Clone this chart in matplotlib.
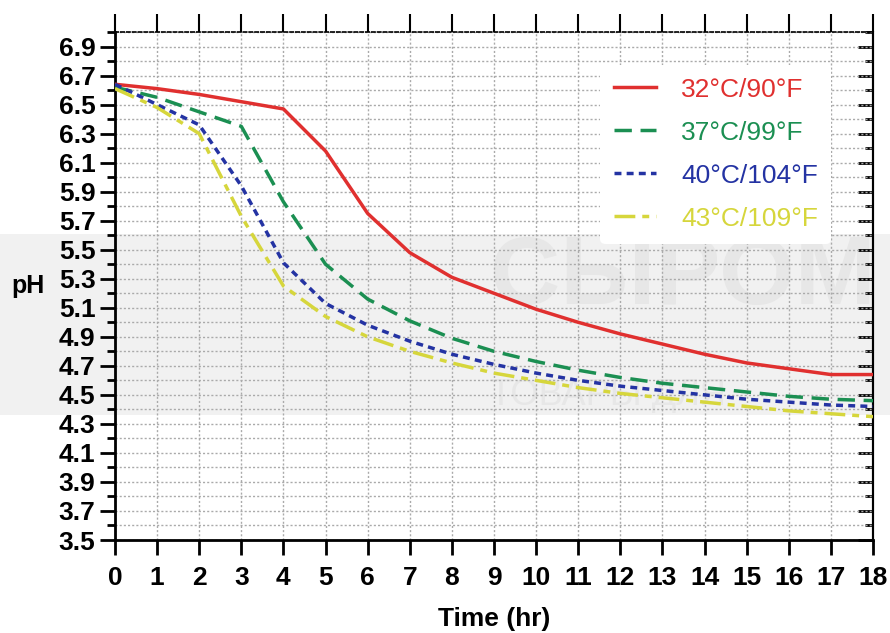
import numpy as np
import matplotlib.pyplot as plt
from matplotlib.patches import Rectangle
from matplotlib.ticker import MultipleLocator

plt.rcParams['font.family'] = ['Liberation Sans', 'DejaVu Sans']

hours = list(range(0, 19))
ph_32 = [6.64, 6.61, 6.57, 6.52, 6.47, 6.18, 5.75, 5.48, 5.31, 5.20, 5.09, 5.00,
         4.92, 4.85, 4.78, 4.72, 4.68, 4.64, 4.64]
ph_37 = [6.62, 6.55, 6.45, 6.35, 5.83, 5.40, 5.16, 5.01, 4.89, 4.80, 4.73, 4.67,
         4.62, 4.58, 4.55, 4.52, 4.49, 4.47, 4.46]
ph_40 = [6.64, 6.50, 6.36, 5.94, 5.41, 5.13, 4.98, 4.87, 4.78, 4.71, 4.65, 4.60,
         4.56, 4.53, 4.50, 4.47, 4.45, 4.43, 4.42]
ph_43 = [6.61, 6.48, 6.30, 5.73, 5.25, 5.04, 4.90, 4.80, 4.72, 4.65, 4.60, 4.55,
         4.51, 4.48, 4.45, 4.42, 4.39, 4.37, 4.35]
labels = ['32°C/90°F', '37°C/99°F', '40°C/104°F', '43°C/109°F']
colors = ['#e0302f', '#1b8f52', '#2433a3', '#d6d63c']

fig = plt.figure(figsize=(8.9, 6.33), dpi=100)
fig.patch.set_facecolor('white')

# faint watermark in the background
fig.patches.append(Rectangle((0, 0.345), 1, 0.285, transform=fig.transFigure,
                             facecolor='#f1f1f1', edgecolor='none', zorder=0))
fig.text(0.55, 0.56, 'СЫРОМ', fontsize=70, fontweight='bold', color='#e7e7e7',
         ha='left', va='center', zorder=0.5)
fig.text(0.55, 0.375, 'ТОВАРЫ ДЛЯ', fontsize=26, color='#e7e7e7',
         ha='left', va='center', zorder=0.5)

ax = fig.add_axes([0.1292, 0.1469, 0.8517, 0.8025])
ax.set_zorder(2)
ax.patch.set_alpha(0)

styles = ['-', (0, (5, 2.5)), (0, (2, 1.5)), (0, (6, 2, 2, 2))]
for ys, lab, c, ls in zip([ph_32, ph_37, ph_40, ph_43], labels, colors, styles):
    ax.plot(hours, ys, color=c, lw=2.5, linestyle=ls, label=lab, zorder=3)

ax.set_xlim(0, 18)
ax.set_ylim(3.5, 7.0)
ax.set_xticks(hours)
ax.set_yticks(np.round(np.arange(3.5, 7.0, 0.2), 1))
ax.yaxis.set_minor_locator(MultipleLocator(0.1))
ax.set_yticklabels(['%.1f' % v for v in np.arange(3.5, 7.0, 0.2)])

ax.grid(True, which='major', axis='x', color='#aaaaaa', linestyle=(0, (1.5, 1.5)), lw=1)
ax.grid(True, which='both', axis='y', color='#aaaaaa', linestyle=(0, (1.5, 1.5)), lw=1)

for lab in ax.get_xticklabels() + ax.get_yticklabels():
    lab.set_fontweight('bold')
ax.tick_params(axis='both', which='major', labelsize=19, width=2, length=11,
               direction='out', top=False, right=False)
ax.tick_params(axis='y', which='minor', width=2, length=6, direction='out', right=False)
ax.tick_params(axis='x', pad=8)
ax.tick_params(axis='y', pad=3)

ax.spines['left'].set_linewidth(2)
ax.spines['bottom'].set_linewidth(2)
ax.spines['right'].set_linewidth(1.5)
ax.spines['top'].set_linewidth(1.2)
ax.spines['top'].set_linestyle((0, (2, 1.5)))

sec_y = ax.secondary_yaxis('right')
sec_y.set_yticks(np.round(np.arange(3.5, 7.0, 0.2), 1))
sec_y.yaxis.set_minor_locator(MultipleLocator(0.1))
sec_y.tick_params(which='major', direction='in', length=11, width=2, labelright=False)
sec_y.tick_params(which='minor', direction='in', length=6, width=2)
sec_y.spines['right'].set_linewidth(1.5)

sec_x = ax.secondary_xaxis('top')
sec_x.set_xticks(hours)
sec_x.tick_params(direction='out', length=13, width=1.5, labeltop=False)
sec_x.spines['top'].set_visible(False)

ax.set_xlabel('Time (hr)', fontsize=19, fontweight='bold', labelpad=12)
ax.set_ylabel('pH', fontsize=18, fontweight='bold', rotation=0, labelpad=22, va='center')

leg = ax.legend(loc='upper right', bbox_to_anchor=(0.962, 0.962), fontsize=19,
                frameon=True, handlelength=1.6, handletextpad=0.95, labelspacing=0.72,
                borderpad=0.5)
leg.get_frame().set_facecolor('white')
leg.get_frame().set_edgecolor('none')
leg.get_frame().set_alpha(1)
for txt, c in zip(leg.get_texts(), colors):
    txt.set_color(c)

fig.savefig('out.png', dpi=100)
